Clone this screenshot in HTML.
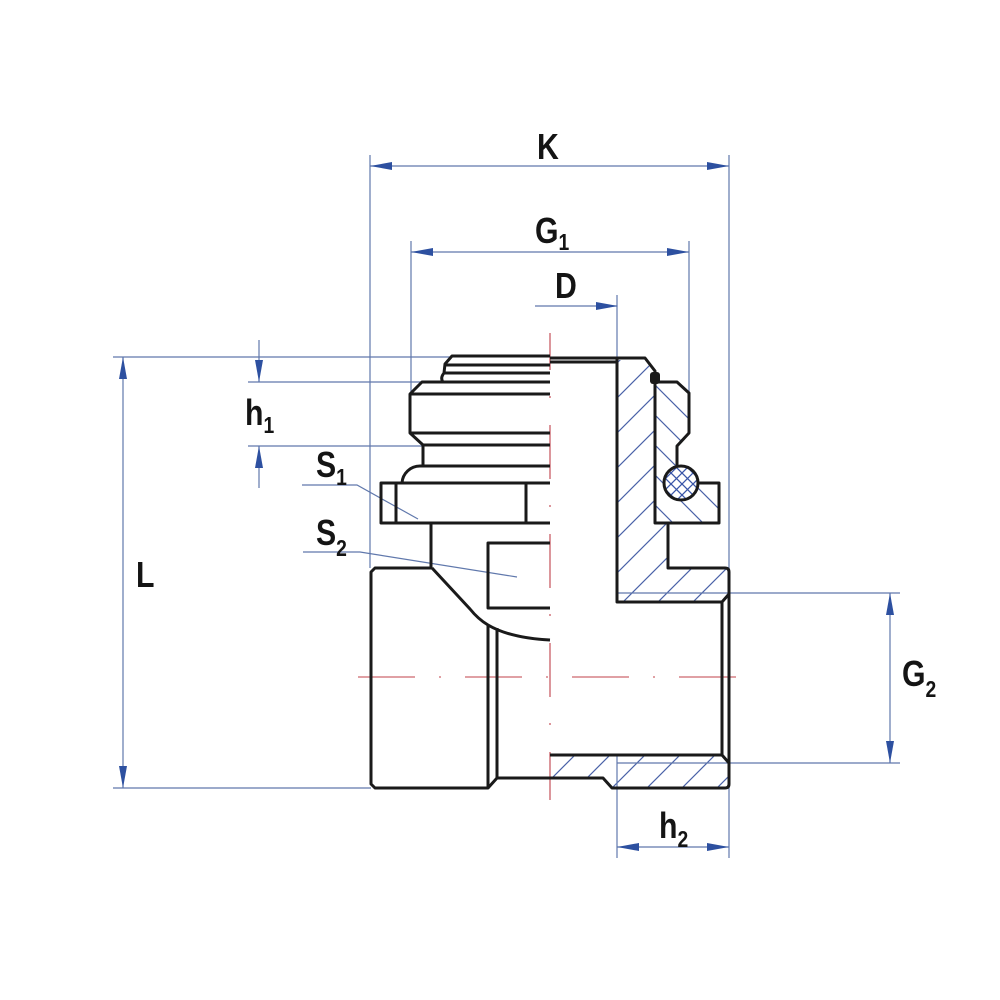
<!DOCTYPE html>
<html>
<head>
<meta charset="utf-8">
<style>
  html,body{margin:0;padding:0;background:#fff;}
  svg{display:block;}
  .lbl{font-family:"Liberation Sans",sans-serif;font-weight:bold;fill:#141414;font-size:36px;}
  .sub{font-size:23px;}
</style>
</head>
<body>
<svg width="1000" height="1000" viewBox="0 0 1000 1000" xmlns="http://www.w3.org/2000/svg">
  <defs>
    <pattern id="hs" width="35" height="35" patternUnits="userSpaceOnUse">
      <path d="M0,35 L35,0 M-5,5 L5,-5 M30,40 L40,30" stroke="#4a62a8" stroke-width="1.2"/>
    </pattern>
    <pattern id="hb" width="30" height="30" patternUnits="userSpaceOnUse">
      <path d="M0,0 L30,30 M-5,25 L5,35 M25,-5 L35,5" stroke="#4a62a8" stroke-width="1.2"/>
    </pattern>
    <pattern id="hx" width="11" height="11" patternUnits="userSpaceOnUse">
      <path d="M0,0 L11,11 M11,0 L0,11 M-3,8 L3,14 M8,-3 L14,3 M-3,3 L3,-3 M8,14 L14,8" stroke="#3a56a8" stroke-width="1.3"/>
    </pattern>
  </defs>

  <rect width="1000" height="1000" fill="#fff"/>

  <!-- Hatched section areas -->
  <path d="M617,360 L645,360 L655,371 L655,523 L668,523 L668,568 L725,568 L729,572 L729,595 L722,602 L617,602 Z" fill="url(#hs)"/>
  <path d="M550,755 L720,755 L729,763 L729,784 Q729,788 725,788 L612,788 L603,778 L550,778 Z" fill="url(#hs)"/>
  <path d="M655,382 L677,382 L689,393 L689,433 L677,446 L677,483 L719,483 L719,523 L655,523 Z" fill="url(#hb)"/>

  <!-- Red center lines -->
  <line x1="550" y1="333" x2="550" y2="800" stroke="#c0404a" stroke-width="1.1" stroke-dasharray="54 26 2 27" stroke-dashoffset="17"/>
  <line x1="358" y1="677" x2="740" y2="677" stroke="#c0404a" stroke-width="1.1" stroke-dasharray="57 24 2 24"/>

  <!-- Blue thin dimension/extension lines -->
  <g stroke="#6078ac" stroke-width="1.2" fill="none">
    <line x1="370" y1="155" x2="370" y2="568"/>
    <line x1="729" y1="155" x2="729" y2="570"/>
    <line x1="370" y1="166" x2="729" y2="166"/>
    <line x1="411" y1="241" x2="411" y2="392"/>
    <line x1="689" y1="241" x2="689" y2="393"/>
    <line x1="411" y1="252" x2="689" y2="252"/>
    <line x1="535" y1="306" x2="617" y2="306"/>
    <line x1="617" y1="295" x2="617" y2="358"/>
    <line x1="113" y1="357" x2="452" y2="357"/>
    <line x1="113" y1="788" x2="371" y2="788"/>
    <line x1="123" y1="357" x2="123" y2="788"/>
    <line x1="248" y1="382" x2="422" y2="382"/>
    <line x1="248" y1="446" x2="423" y2="446"/>
    <line x1="259" y1="340" x2="259" y2="382"/>
    <line x1="259" y1="446" x2="259" y2="488"/>
    <polyline points="302,485 357,485 418,519"/>
    <polyline points="303,552 360,552 517,577"/>
    <line x1="617" y1="593" x2="900" y2="593"/>
    <line x1="617" y1="763" x2="900" y2="763"/>
    <line x1="890" y1="593" x2="890" y2="763"/>
    <line x1="617" y1="755" x2="617" y2="858"/>
    <line x1="729" y1="785" x2="729" y2="858"/>
    <line x1="617" y1="847" x2="729" y2="847"/>
  </g>

  <!-- Arrowheads -->
  <g fill="#2d50a0">
    <polygon points="370,166 392,162 392,170"/>
    <polygon points="729,166 707,162 707,170"/>
    <polygon points="411,252 433,248 433,256"/>
    <polygon points="689,252 667,248 667,256"/>
    <polygon points="618,306 596,302 596,310"/>
    <polygon points="123,357 119,379 127,379"/>
    <polygon points="123,788 119,766 127,766"/>
    <polygon points="259,382 255,360 263,360"/>
    <polygon points="259,446 255,468 263,468"/>
    <polygon points="890,593 886,615 894,615"/>
    <polygon points="890,763 886,741 894,741"/>
    <polygon points="617,847 639,843 639,851"/>
    <polygon points="729,847 707,843 707,851"/>
  </g>

  <!-- O-ring -->
  <circle cx="681" cy="483" r="17" fill="#fff"/>
  <circle cx="681" cy="483" r="17" fill="url(#hx)" stroke="#1a1a1a" stroke-width="3"/>

  <!-- Black outlines -->
  <g stroke="#1a1a1a" stroke-width="3" fill="none" stroke-linejoin="round">
    <path d="M550,356 L452,356 L445,364 L444,373 Q440,378 443,382"/>
    <line x1="445" y1="365" x2="550" y2="365"/>
    <line x1="443" y1="373" x2="550" y2="373"/>
    <path d="M550,382 L422,382 L410,394 L410,433 L423,445 L423,466"/>
    <line x1="411" y1="394" x2="550" y2="394"/>
    <line x1="411" y1="433" x2="550" y2="433"/>
    <line x1="423" y1="445" x2="550" y2="445"/>
    <line x1="420" y1="466" x2="550" y2="466"/>
    <path d="M420,466 A18,18 0 0 0 402,483"/>
    <rect x="381" y="483" width="145" height="40"/>
    <line x1="396" y1="483" x2="396" y2="523"/>
    <line x1="526" y1="483" x2="550" y2="483"/>
    <line x1="526" y1="523" x2="550" y2="523"/>
    <line x1="431" y1="523" x2="431" y2="568"/>
    <path d="M550,543 L488,543 L488,608 L550,608"/>
    <path d="M432,568 L375,568 L371,572 L371,784 L375,788 L488,788 L497,778 L603,778 L612,788 L725,788 Q729,788 729,784 L729,572 Q729,568 725,568 L668,568 L668,523"/>
    <path d="M432,568 L470,609 Q478,619 488,625 Q510,638 550,640"/>
    <line x1="488" y1="625" x2="488" y2="788"/>
    <line x1="497" y1="628" x2="497" y2="778"/>
    <path d="M550,358 L645,358 L655,371 L655,523 L719,523 L719,483 L697,483"/>
    <line x1="550" y1="362" x2="617" y2="362"/>
    <path d="M657,382 L677,382 L689,393 L689,433 L677,446 L677,466"/>
    <path d="M617,358 L617,602 L722,602 L722,755 L550,755"/>
    <line x1="722" y1="602" x2="729" y2="594"/>
    <line x1="722" y1="755" x2="729" y2="763"/>
  </g>
  <rect x="650" y="372" width="10" height="12" rx="3" fill="#1a1a1a"/>

  <!-- Labels -->
  <text class="lbl" transform="translate(537,159) scale(0.84,1)">K</text>
  <text class="lbl" transform="translate(535,243) scale(0.84,1)">G<tspan class="sub" dy="7">1</tspan></text>
  <text class="lbl" transform="translate(555,298) scale(0.84,1)">D</text>
  <text class="lbl" transform="translate(245,425) scale(0.84,1)">h<tspan class="sub" dy="8">1</tspan></text>
  <text class="lbl" transform="translate(316,477) scale(0.84,1)">S<tspan class="sub" dy="8">1</tspan></text>
  <text class="lbl" transform="translate(316,545) scale(0.84,1)">S<tspan class="sub" dy="11">2</tspan></text>
  <text class="lbl" transform="translate(136,587) scale(0.84,1)">L</text>
  <text class="lbl" transform="translate(902,686) scale(0.84,1)">G<tspan class="sub" dy="11">2</tspan></text>
  <text class="lbl" transform="translate(659,838) scale(0.84,1)">h<tspan class="sub" dy="9">2</tspan></text>
</svg>
</body>
</html>
